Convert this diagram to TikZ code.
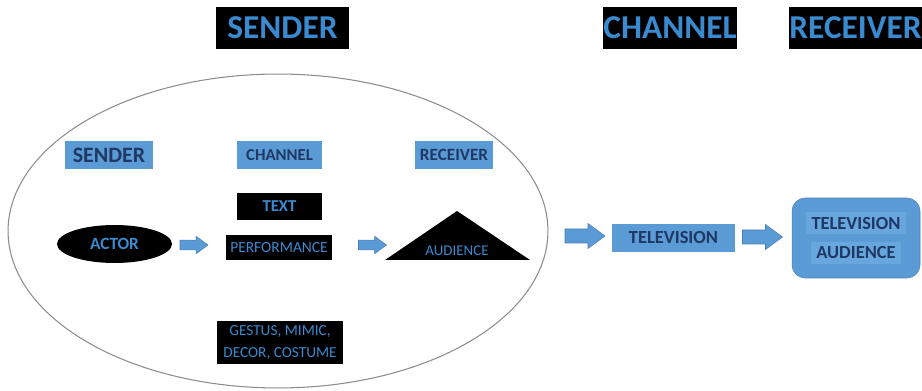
\documentclass[tikz,border=0pt]{standalone}
\usepackage{fontspec}
\setmainfont{Carlito}
\usetikzlibrary{shapes.geometric}
\definecolor{headblue}{HTML}{3A8AD0}
\definecolor{boxblue}{HTML}{5B9BD5}
\definecolor{lineblue}{HTML}{4A7EB8}
\definecolor{navytext}{HTML}{1F3864}
\definecolor{ringgray}{HTML}{8C8C8C}
\definecolor{bandblue}{HTML}{68A6DE}
\begin{document}
\begin{tikzpicture}[x=0.02cm,y=-0.02cm,
    headbox/.style={fill=black,text=headblue,inner sep=0pt,minimum height=0.84cm,font=\fontsize{19}{20}\selectfont\bfseries},
    labelbox/.style={fill=boxblue,text=navytext,inner sep=0pt,minimum height=0.58cm},
    darkbox/.style={fill=black,text=headblue,inner sep=0pt},
    blockarrow/.pic={\filldraw[fill=boxblue,draw=lineblue,line width=0.3pt] (-20,-7) -- (3,-7) -- (3,-12.5) -- (20,0) -- (3,12.5) -- (3,7) -- (-20,7) -- cycle;}]
    \useasboundingbox (0,0) rectangle (922,391);
    \node[headbox,minimum width=2.66cm] (topsender) at (282.5,28) {SENDER};
    \node[headbox,minimum width=2.68cm] (topchannel) at (670,28) {CHANNEL};
    \node[headbox,minimum width=2.58cm] (topreceiver) at (855.5,28) {RECEIVER};
    \draw[ringgray,line width=0.6pt] (278,231) ellipse [x radius=5.4cm, y radius=3.14cm];
    \node[labelbox,minimum width=1.76cm,font=\fontsize{12.5}{14}\selectfont\bfseries] (insender) at (109,155) {SENDER};
    \node[labelbox,minimum width=1.72cm,font=\fontsize{9.5}{11}\selectfont\bfseries] (inchannel) at (279.5,155) {CHANNEL};
    \node[labelbox,minimum width=1.56cm,font=\fontsize{9.8}{11}\selectfont\bfseries] (inreceiver) at (454,155) {RECEIVER};
    \node[darkbox,minimum width=1.7cm,minimum height=0.54cm,font=\fontsize{9.5}{11}\selectfont\bfseries] (text) at (279.5,206.5) {TEXT};
    \node[darkbox,minimum width=2.12cm,minimum height=0.5cm,font=\fontsize{8.8}{10}\selectfont] (performance) at (279,247.5) {PERFORMANCE};
    \node[darkbox,ellipse,minimum width=2.3cm,minimum height=0.76cm,font=\fontsize{9.8}{11}\selectfont\bfseries] (actor) at (114.5,244) {ACTOR};
    \fill (385,260) -- (457,211) -- (530,260) -- cycle;
    \node[text=headblue,inner sep=0pt,font=\fontsize{8.5}{10}\selectfont] (audience) at (457,251) {AUDIENCE};
    \node[darkbox,minimum width=2.52cm,minimum height=0.86cm,align=center,font=\fontsize{8.7}{12}\selectfont] (gestus) at (280,342.5) {GESTUS, MIMIC,\\DECOR, COSTUME};
    \pic[scale=0.7] at (194,245) {blockarrow};
    \pic[scale=0.7] at (372.5,245) {blockarrow};
    \pic at (585,236) {blockarrow};
    \node[labelbox,minimum width=2.46cm,minimum height=0.56cm,font=\fontsize{10.5}{12}\selectfont\bfseries] (television) at (673.5,238) {TELEVISION};
    \pic at (762.5,237) {blockarrow};
    \node[fill=boxblue,draw=lineblue,line width=0.3pt,rounded corners=0.26cm,minimum width=2.56cm,minimum height=1.6cm,inner sep=0pt,text=navytext,align=center,font=\fontsize{10.5}{17}\selectfont\bfseries] (tvaudience) at (856,238) {\colorbox{bandblue}{TELEVISION}\\\colorbox{bandblue}{AUDIENCE}};
\end{tikzpicture}
\end{document}
